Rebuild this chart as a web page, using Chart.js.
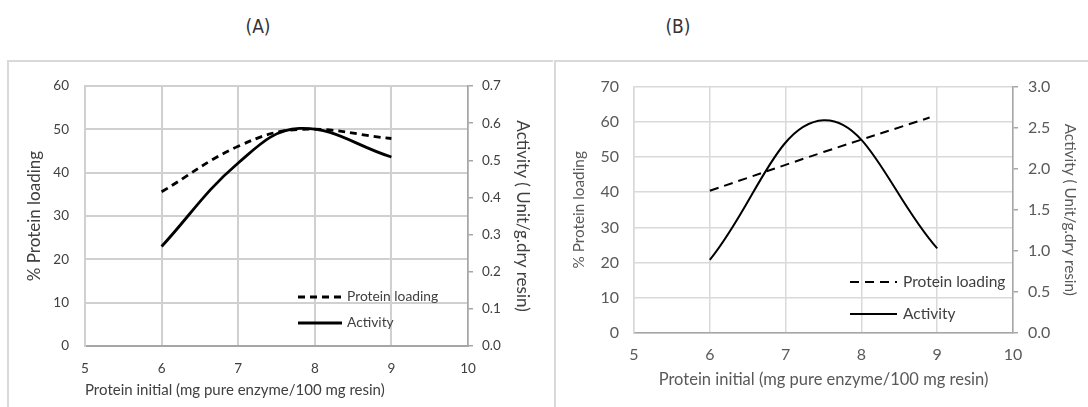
<!DOCTYPE html>
<html>
<head>
<meta charset="utf-8">
<script src="https://cdn.jsdelivr.net/npm/chart.js@4.4.0/dist/chart.umd.min.js"></script>
<style>
    body { margin: 0; background: #fff; width: 1088px; height: 407px; overflow: hidden; position: relative; }
    .panel-label { position: absolute; top: 15px; width: 60px; text-align: center; font-family: "Liberation Sans Narrow", "DejaVu Sans Condensed", sans-serif; font-size: 19px; color: #333; }
    .frame { position: absolute; border-top: 2px solid #d9d9d9; border-left: 2px solid #d9d9d9; }
    canvas { position: absolute; }
</style>
</head>
<body>
<div class="panel-label" style="left:228px">(A)</div>
<div class="panel-label" style="left:648px">(B)</div>
<div class="frame" style="left:7px; top:60px; width:544px; height:360px"></div>
<div class="frame" style="left:554px; top:60px; width:540px; height:360px"></div>
<canvas id="chartA" width="542" height="345" style="left:9px; top:62px"></canvas>
<canvas id="chartB" width="532" height="345" style="left:556px; top:62px"></canvas>

<script>
// (A) values
const xA = [6, 7, 7.8, 9];
const loadingA = [35.6, 46.1, 50.0, 47.9];
const activityA = [0.268, 0.493, 0.586, 0.509];

// (B) values
const xLoadingB = [6, 7.5, 8.9];
const loadingB = [40.4, 51.4, 61.2];
const xActivityB = [6, 7.5, 9];
const activityB = [0.89, 2.59, 1.03];

const xTitle = 'Protein initial (mg pure enzyme/100 mg resin)';
const leftTitle = '% Protein loading';
const rightTitle = 'Activity ( Unit/g.dry resin)';
const seriesNames = ['Protein loading', 'Activity'];

// draws the legend inside the plot, using the datasets' own line styles
const insideLegend = {
    id: 'insideLegend',
    afterDatasetsDraw(chart, args, opts) {
        const ctx = chart.ctx;
        ctx.save();
        ctx.font = opts.font;
        ctx.fillStyle = opts.color;
        ctx.textBaseline = 'middle';
        chart.data.datasets.forEach((ds, i) => {
            const y = opts.y + i * opts.rowGap;
            ctx.beginPath();
            ctx.setLineDash(ds.borderDash || []);
            ctx.lineWidth = ds.borderWidth;
            ctx.strokeStyle = ds.borderColor;
            ctx.moveTo(opts.x, y);
            ctx.lineTo(opts.x + opts.lineLength, y);
            ctx.stroke();
            ctx.setLineDash([]);
            ctx.fillText(ds.label, opts.x + opts.lineLength + opts.textGap, y);
        });
        ctx.restore();
    }
};

function toPoints(xs, ys) {
    return xs.map((x, i) => ({ x: x, y: ys[i] }));
}

function makeChart(id, c) {
    const ctx = document.getElementById(id).getContext('2d');
    const tickFont = { family: 'Lato', size: c.tickSize };
    const xTitleFont = { family: 'Lato', size: c.xTitleSize };
    const yTitleFont = { family: 'Lato', size: c.yTitleSize };

    return new Chart(ctx, {
        type: 'line',
        data: {
            datasets: [
                {
                    label: seriesNames[0],
                    data: c.loading,
                    yAxisID: 'y',
                    borderColor: '#000',
                    borderWidth: c.lineWidth,
                    borderDash: c.dash,
                    pointRadius: 0,
                    tension: 0.4,
                    fill: false
                },
                {
                    label: seriesNames[1],
                    data: c.activity,
                    yAxisID: 'y1',
                    borderColor: '#000',
                    borderWidth: c.lineWidth,
                    pointRadius: 0,
                    tension: 0.4,
                    fill: false
                }
            ]
        },
        options: {
            responsive: false,
            animation: false,
            devicePixelRatio: 1,
            layout: { padding: { top: c.top, left: 0, right: 0, bottom: 0 } },
            plugins: {
                legend: { display: false },
                tooltip: { enabled: false },
                insideLegend: c.legend
            },
            scales: {
                x: {
                    type: 'linear',
                    min: 5,
                    max: 10,
                    ticks: { stepSize: 1, padding: c.xTickPad, color: c.textColor, font: tickFont },
                    grid: { color: c.gridColor, lineWidth: c.gridWidth, drawTicks: false },
                    border: { color: c.axisColor, width: c.gridWidth },
                    title: {
                        display: true, text: xTitle, align: c.xTitleAlign, color: c.textColor,
                        font: xTitleFont, padding: { top: 0, bottom: c.xTitlePad }
                    },
                    afterFit: s => { s.height = c.xHeight; }
                },
                y: {
                    position: 'left',
                    min: 0,
                    max: c.leftMax,
                    ticks: { stepSize: 10, padding: c.leftTickPad, color: c.textColor, font: tickFont },
                    grid: { color: c.gridColor, lineWidth: c.gridWidth, drawTicks: false },
                    border: { color: c.gridColor, width: c.gridWidth },
                    title: {
                        display: true, text: leftTitle, color: c.textColor,
                        font: yTitleFont, padding: { top: c.leftTitlePad, bottom: 0 }
                    },
                    afterFit: s => { s.width = c.leftWidth; }
                },
                y1: {
                    position: 'right',
                    min: 0,
                    max: c.rightMax,
                    ticks: {
                        stepSize: c.rightStep, padding: c.rightTickPad, color: c.textColor, font: tickFont,
                        callback: v => v.toFixed(1)
                    },
                    grid: { drawOnChartArea: false, drawTicks: true, tickLength: 5, tickColor: c.axisColor, lineWidth: 1.5 },
                    border: { color: c.axisColor, width: 1.5 },
                    title: {
                        display: true, text: rightTitle, color: c.textColor,
                        font: yTitleFont, padding: { top: c.rightTitlePad, bottom: 0 }
                    },
                    afterFit: s => { s.width = c.rightWidth; }
                }
            }
        },
        plugins: [insideLegend]
    });
}

makeChart('chartA', {
    loading: toPoints(xA, loadingA),
    activity: toPoints(xA, activityA),
    leftMax: 60, rightMax: 0.7, rightStep: 0.1,
    top: 20, leftWidth: 76, rightWidth: 83, xHeight: 61,
    tickSize: 13.5, xTitleSize: 15, yTitleSize: 17,
    textColor: '#404040', gridColor: '#d0d0d0', axisColor: '#a6a6a6', gridWidth: 2,
    lineWidth: 2.8, dash: [7, 5],
    xTickPad: 14.9, leftTickPad: 16, rightTickPad: 9,
    xTitlePad: 8, xTitleAlign: 'start', leftTitlePad: 15.8, rightTitlePad: 18.8,
    legend: { x: 289, y: 235, rowGap: 26, lineLength: 44, textGap: 5, font: '13.8px Lato', color: '#404040' }
});

makeChart('chartB', {
    loading: toPoints(xLoadingB, loadingB),
    activity: toPoints(xActivityB, activityB),
    leftMax: 70, rightMax: 3.0, rightStep: 0.5,
    top: 20, leftWidth: 78, rightWidth: 75, xHeight: 74,
    tickSize: 16, xTitleSize: 16.5, yTitleSize: 15.3,
    textColor: '#595959', gridColor: '#d9d9d9', axisColor: '#a6a6a6', gridWidth: 1.5,
    lineWidth: 2, dash: [9, 6],
    xTickPad: 12.5, leftTickPad: 15, rightTickPad: 10,
    xTitlePad: 17.1, xTitleAlign: 'center', leftTitlePad: 13.8, rightTitlePad: 8.8,
    legend: { x: 294, y: 220, rowGap: 32, lineLength: 47, textGap: 6, font: '15.5px Lato', color: '#404040' }
});
</script>
</body>
</html>
